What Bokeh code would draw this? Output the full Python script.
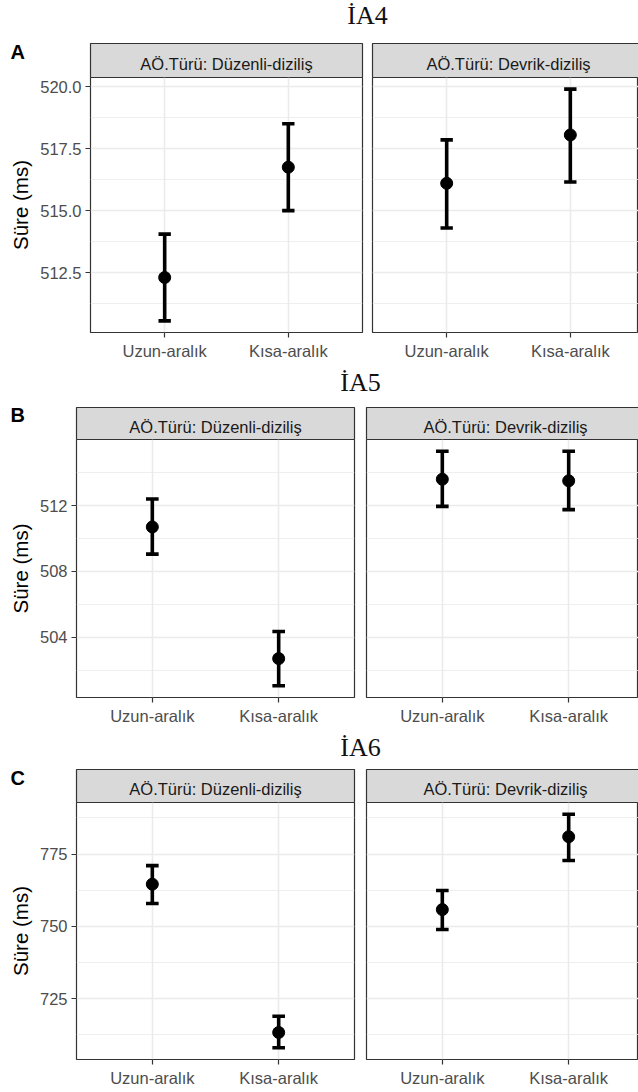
from bokeh.plotting import figure
from bokeh.layouts import column, row
from bokeh.models import (Range1d, LinearAxis, FixedTicker, Grid,
                          ColumnDataSource, PrintfTickFormatter)
from bokeh.core.properties import value
from bokeh.embed import file_html
from bokeh.resources import INLINE

# ---- data -------------------------------------------------------------
conditions = ["Uzun-aralık", "Kısa-aralık"]
facets = ["AÖ.Türü: Düzenli-diziliş", "AÖ.Türü: Devrik-diziliş"]

# İA4
ia4_duz_mean = [512.3, 516.75]
ia4_duz_low = [510.55, 515.0]
ia4_duz_high = [514.05, 518.5]
ia4_dev_mean = [516.1, 518.05]
ia4_dev_low = [514.3, 516.15]
ia4_dev_high = [517.85, 519.9]
ia4_ticks = [512.5, 515.0, 517.5, 520.0]

# İA5
ia5_duz_mean = [510.7, 502.7]
ia5_duz_low = [509.05, 501.05]
ia5_duz_high = [512.4, 504.35]
ia5_dev_mean = [513.6, 513.5]
ia5_dev_low = [511.95, 511.75]
ia5_dev_high = [515.3, 515.3]
ia5_ticks = [504, 508, 512]

# İA6
ia6_duz_mean = [764.6, 713.3]
ia6_duz_low = [757.9, 708.0]
ia6_duz_high = [771.0, 718.9]
ia6_dev_mean = [755.8, 781.0]
ia6_dev_low = [748.9, 772.8]
ia6_dev_high = [762.4, 788.8]
ia6_ticks = [725, 750, 775]

# ---- styling ----------------------------------------------------------
SANS = "Liberation Sans"
SERIF = "Liberation Serif"
GRID = "#EBEBEB"
BORDER = "#333333"
STRIP_FILL = "#D9D9D9"
TICK_TXT = "#4D4D4D"
CAP_HALF = 0.05       # half width of error bar caps (x units)
PAGE_W = 638

rows_cfg = [
    dict(title="İA4", tag="A", fmt="%.1f", ticks=ia4_ticks,
         panels=[(ia4_duz_mean, ia4_duz_low, ia4_duz_high),
                 (ia4_dev_mean, ia4_dev_low, ia4_dev_high)],
         head_h=77, strip_top=43, title_mid=15, tag_mid=51,
         body_h=285, bottom=29,
         left_w=367, left_border=90, gap=5, right_w=271),
    dict(title="İA5", tag="B", fmt="%d", ticks=ia5_ticks,
         panels=[(ia5_duz_mean, ia5_duz_low, ia5_duz_high),
                 (ia5_dev_mean, ia5_dev_low, ia5_dev_high)],
         head_h=77, strip_top=45, title_mid=20, tag_mid=52,
         body_h=288, bottom=30,
         left_w=360, left_border=76, gap=6, right_w=278),
    dict(title="İA6", tag="C", fmt="%d", ticks=ia6_ticks,
         panels=[(ia6_duz_mean, ia6_duz_low, ia6_duz_high),
                 (ia6_dev_mean, ia6_dev_low, ia6_dev_high)],
         head_h=75, strip_top=42, title_mid=20, tag_mid=50,
         body_h=290, bottom=33,
         left_w=360, left_border=76, gap=6, right_w=278),
]

xpos = [i + 1 for i in range(len(conditions))]
label_map = {x: c for x, c in zip(xpos, conditions)}


def header(cfg):
    """Row title, panel tag and the two facet strips, laid out in pixels."""
    h = cfg["head_h"]
    p = figure(width=PAGE_W, height=h, x_range=Range1d(0, PAGE_W), y_range=Range1d(h, 0),
               output_backend="svg", toolbar_location=None,
               x_axis_location=None, y_axis_location=None,
               min_border=0, outline_line_color=None)
    p.grid.visible = False

    lb, lw, gap = cfg["left_border"], cfg["left_w"], cfg["gap"]
    left_frame = lw - lb - gap
    strip_l = [lb, lw + gap]
    strip_r = [lw - gap, PAGE_W + 5]
    st = cfg["strip_top"]
    p.quad(left=strip_l, right=strip_r, top=[st, st], bottom=[h, h],
           fill_color=STRIP_FILL, line_color=BORDER, line_width=1.2)
    centers = [lb + left_frame / 2, lw + gap + left_frame / 2]
    p.text(x=centers, y=[(st + h) / 2 + 3] * 2, text=facets,
           text_align="center", text_baseline="middle",
           text_font=value(SANS), text_font_size="16.5px", text_color="#1A1A1A")

    p.text(x=[lw], y=[cfg["title_mid"]], text=[cfg["title"]],
           text_align="center", text_baseline="middle",
           text_font=value(SERIF), text_font_size="26px", text_color="#111111")
    p.text(x=[10], y=[cfg["tag_mid"]], text=[cfg["tag"]],
           text_align="left", text_baseline="middle",
           text_font=value(SANS), text_font_style="bold",
           text_font_size="20px", text_color="black")
    return p


def panel(cfg, idx):
    mean, low, high = cfg["panels"][idx]
    all_low = min(min(pl[1]) for pl in cfg["panels"])
    all_high = max(max(pl[2]) for pl in cfg["panels"])
    pad = 0.05 * (all_high - all_low)
    y0, y1 = all_low - pad, all_high + pad

    left_frame = cfg["left_w"] - cfg["left_border"] - cfg["gap"]
    x0 = xpos[0] - 0.6
    full_x1 = xpos[-1] + 0.6
    if idx == 0:
        width = cfg["left_w"]
        mb_left, mb_right = cfg["left_border"], cfg["gap"]
        x1 = full_x1
    else:
        width = cfg["right_w"]
        mb_left, mb_right = cfg["gap"], 0
        right_frame = width - mb_left
        x1 = x0 + (full_x1 - x0) * right_frame / left_frame

    p = figure(width=width, height=cfg["body_h"],
               x_range=Range1d(x0, x1), y_range=Range1d(y0, y1),
               output_backend="svg", toolbar_location=None,
               x_axis_location=None, y_axis_location=None,
               min_border_left=mb_left, min_border_right=mb_right,
               min_border_top=0, min_border_bottom=cfg["bottom"],
               background_fill_color="white", border_fill_color="white")
    p.grid.visible = False
    p.outline_line_color = BORDER
    p.outline_line_width = 1.2

    ticks = cfg["ticks"]
    step = ticks[1] - ticks[0]
    minors = [t - step / 2 for t in ticks] + [ticks[-1] + step / 2]
    minors = [m for m in minors if y0 < m < y1]

    p.add_layout(Grid(dimension=1, ticker=FixedTicker(ticks=ticks, minor_ticks=minors),
                      grid_line_color=GRID, grid_line_width=1.6,
                      minor_grid_line_color=GRID, minor_grid_line_width=0.8))
    p.add_layout(Grid(dimension=0, ticker=FixedTicker(ticks=xpos),
                      grid_line_color=GRID, grid_line_width=1.6))

    xaxis = LinearAxis(ticker=FixedTicker(ticks=xpos),
                       major_label_overrides=label_map,
                       axis_line_color=None, major_tick_line_color=BORDER,
                       major_tick_line_width=1.2, major_tick_in=0, major_tick_out=5,
                       minor_tick_line_color=None, major_label_standoff=4,
                       major_label_text_font=SANS, major_label_text_font_size="16.5px",
                       major_label_text_color=TICK_TXT)
    p.add_layout(xaxis, "below")

    if idx == 0:
        yaxis = LinearAxis(ticker=FixedTicker(ticks=ticks),
                           formatter=PrintfTickFormatter(format=cfg["fmt"]),
                           axis_line_color=None, major_tick_line_color=BORDER,
                           major_tick_line_width=1.2, major_tick_in=0, major_tick_out=5,
                           minor_tick_line_color=None, major_label_standoff=4,
                           major_label_text_font=SANS, major_label_text_font_size="16.5px",
                           major_label_text_color=TICK_TXT,
                           axis_label="Süre (ms)", axis_label_text_font=SANS,
                           axis_label_text_font_size="20.5px",
                           axis_label_text_font_style="normal",
                           axis_label_text_color="black", axis_label_standoff=5)
        p.add_layout(yaxis, "left")

    src = ColumnDataSource(dict(
        x=xpos, mean=mean, low=low, high=high,
        xl=[x - CAP_HALF for x in xpos], xr=[x + CAP_HALF for x in xpos]))
    p.segment(x0="x", y0="low", x1="x", y1="high", source=src,
              line_color="black", line_width=3.6)
    p.segment(x0="xl", y0="high", x1="xr", y1="high", source=src,
              line_color="black", line_width=3.6)
    p.segment(x0="xl", y0="low", x1="xr", y1="low", source=src,
              line_color="black", line_width=3.6)
    p.scatter(x="x", y="mean", source=src, size=12, color="black")
    return p


blocks = []
for cfg in rows_cfg:
    blocks.append(header(cfg))
    blocks.append(row(panel(cfg, 0), panel(cfg, 1), spacing=0))

layout = column(*blocks, spacing=0)

open("out.html", "w").write(file_html(layout, INLINE))
